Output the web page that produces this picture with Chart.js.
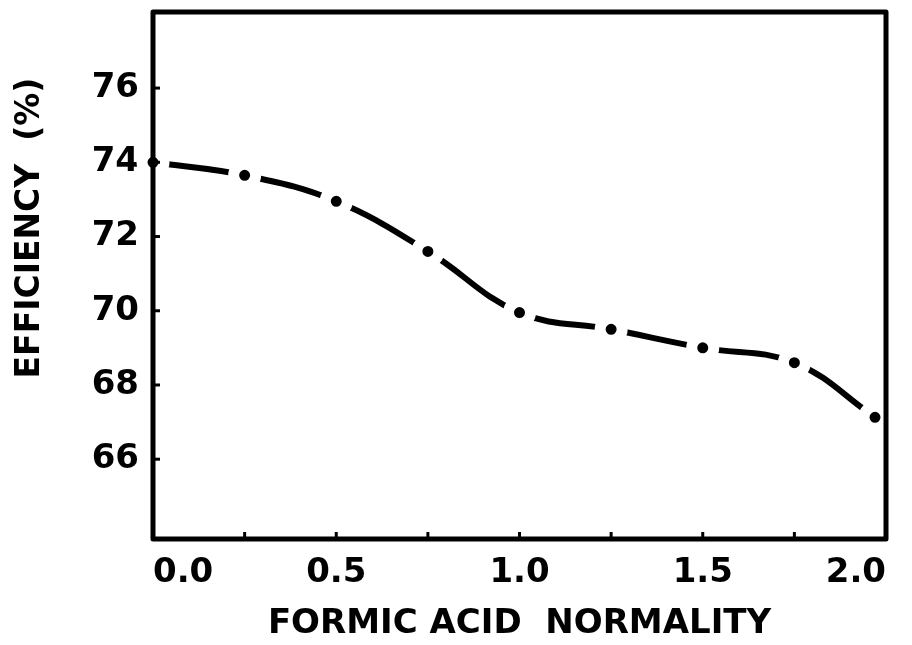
<!DOCTYPE html>
<html>
<head>
<meta charset="utf-8">
<script src="https://cdn.jsdelivr.net/npm/chart.js@4/dist/chart.umd.min.js"></script>
<style>
  html, body { margin: 0; padding: 0; background: #fff; }
  canvas { display: block; }
</style>
</head>
<body>
<canvas id="effChart" width="912" height="645"></canvas>
<script>
// values
const normality = [0, 0.25, 0.5, 0.75, 1.0, 1.25, 1.5, 1.75, 1.97];
const efficiency = [74.0, 73.65, 72.95, 71.6, 69.95, 69.5, 69.0, 68.6, 67.13];
const yTickValues = [66, 68, 70, 72, 74, 76];
const xLabelValues = [0, 0.5, 1.0, 1.5, 2.0];

const xTitle = 'FORMIC ACID  NORMALITY';
const yTitle = 'EFFICIENCY  (%)';

const FONT = '"DejaVu Sans", "Liberation Sans", sans-serif';

// frame, inward tick marks and the rotated y title
const framePlugin = {
    id: 'frame',
    afterDatasetsDraw(chart) {
        const { ctx, chartArea, scales } = chart;
        ctx.save();
        ctx.strokeStyle = '#000';
        ctx.lineWidth = 3;
        scales.x.ticks.forEach(t => {
            if (t.value <= scales.x.min || t.value >= scales.x.max) return;
            const px = scales.x.getPixelForValue(t.value);
            ctx.beginPath();
            ctx.moveTo(px, chartArea.bottom);
            ctx.lineTo(px, chartArea.bottom - 7);
            ctx.stroke();
        });
        scales.y.ticks.forEach(t => {
            const py = scales.y.getPixelForValue(t.value);
            ctx.beginPath();
            ctx.moveTo(chartArea.left, py);
            ctx.lineTo(chartArea.left + 7, py);
            ctx.stroke();
        });
        ctx.lineWidth = 5;
        ctx.lineJoin = 'round';
        ctx.strokeRect(chartArea.left, chartArea.top,
            chartArea.right - chartArea.left, chartArea.bottom - chartArea.top);
        ctx.restore();
    },
    afterDraw(chart) {
        const { ctx } = chart;
        ctx.save();
        ctx.translate(30, 228);
        ctx.rotate(-Math.PI / 2);
        ctx.fillStyle = '#000';
        ctx.font = 'bold 33px ' + FONT;
        ctx.textAlign = 'center';
        ctx.textBaseline = 'middle';
        ctx.fillText(yTitle, 0, 0);
        ctx.restore();
    }
};

new Chart(document.getElementById('effChart'), {
    type: 'line',
    data: {
        datasets: [{
            data: normality.map((x, i) => ({ x: x, y: efficiency[i] })),
            borderColor: '#000',
            borderWidth: 6,
            borderCapStyle: 'round',
            tension: 0.4,
            pointRadius: 11,
            pointBackgroundColor: '#000',
            pointBorderColor: '#fff',
            pointBorderWidth: 11,
            clip: false
        }]
    },
    options: {
        responsive: false,
        animation: false,
        layout: {
            autoPadding: false,
            padding: { top: 12, right: 26, left: 0, bottom: 0 }
        },
        plugins: {
            legend: { display: false },
            tooltip: { enabled: false }
        },
        scales: {
            x: {
                type: 'linear',
                min: 0,
                max: 2.0,
                grid: { display: false },
                border: { display: false },
                ticks: {
                    stepSize: 0.25,
                    autoSkip: false,
                    maxRotation: 0,
                    align: 'inner',
                    padding: 6,
                    color: '#000',
                    font: { family: FONT, size: 34, weight: 'bold' },
                    callback: v => xLabelValues.includes(v) ? v.toFixed(1) : ''
                },
                title: {
                    display: true,
                    text: xTitle,
                    color: '#000',
                    font: { family: FONT, size: 34, weight: 'bold' },
                    padding: { top: 0, bottom: 0 }
                },
                afterFit(scale) {
                    scale.height = 106;
                    scale.paddingLeft = 0;
                    scale.paddingRight = 0;
                }
            },
            y: {
                min: 63.85,
                max: 78.05,
                grid: { display: false },
                border: { display: false },
                afterBuildTicks(scale) {
                    scale.ticks = yTickValues.map(v => ({ value: v }));
                },
                ticks: {
                    padding: 6,
                    color: '#000',
                    font: { family: FONT, size: 34, weight: 'bold' },
                    callback: v => String(v)
                },
                afterFit(scale) {
                    scale.width = 153;
                    scale.paddingTop = 0;
                    scale.paddingBottom = 0;
                }
            }
        }
    },
    plugins: [framePlugin]
});
</script>
</body>
</html>
